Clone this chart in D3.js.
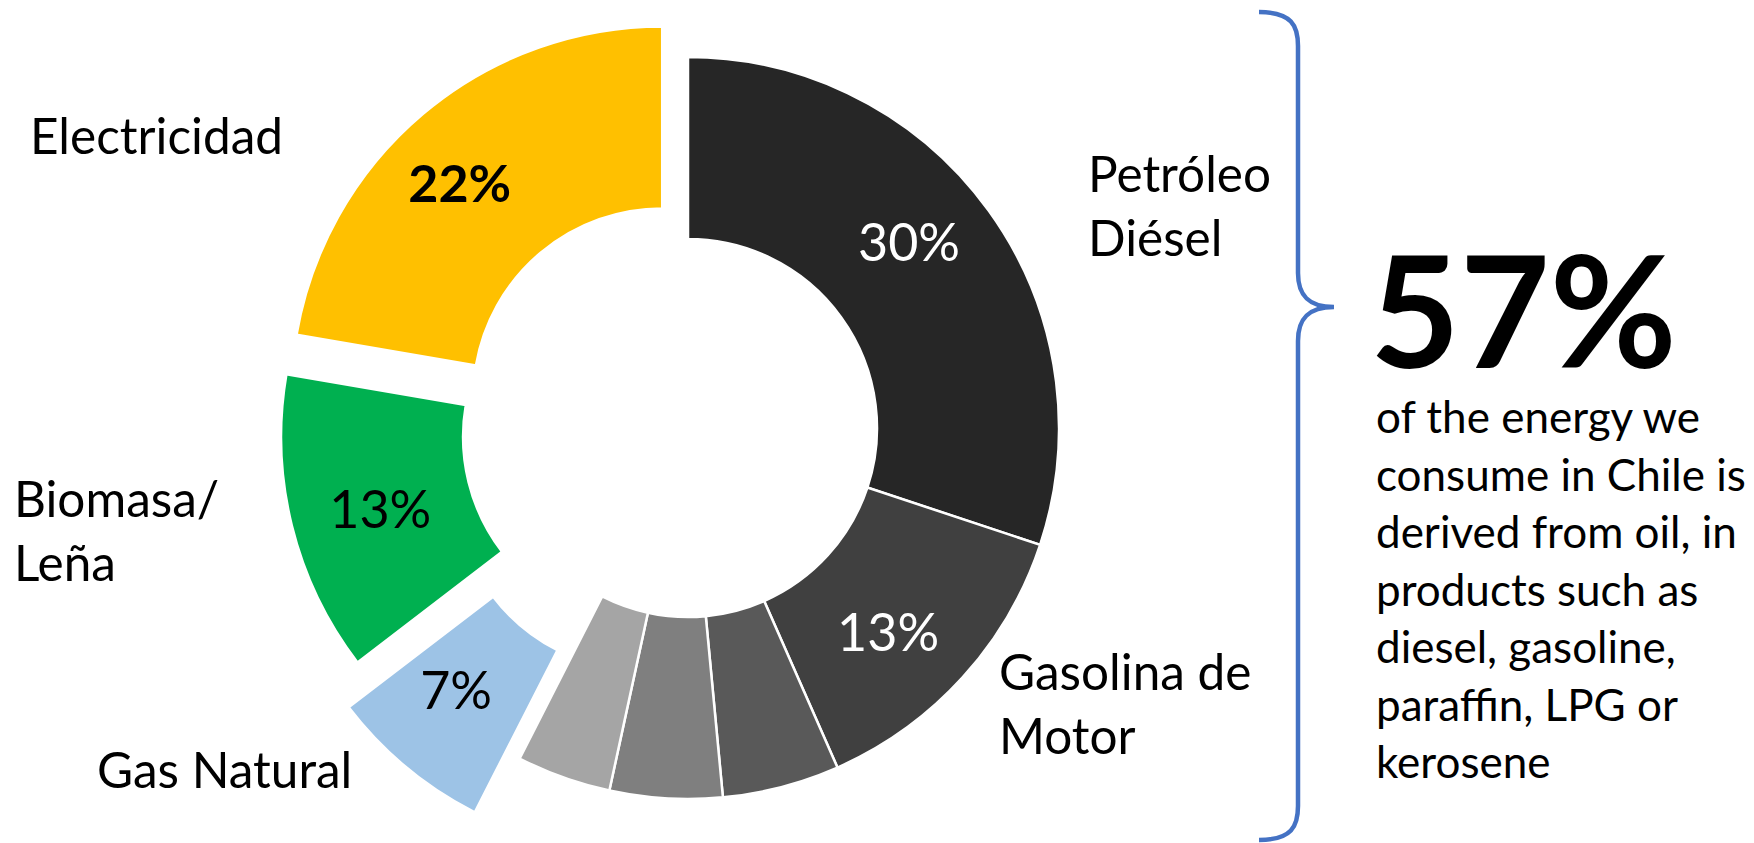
<!DOCTYPE html>
<html>
<head>
<meta charset="utf-8">
<script src="https://cdn.jsdelivr.net/npm/d3@7/dist/d3.min.js"></script>
<style>
  body { margin: 0; background: #fff; }
  svg text { font-family: Lato, "Open Sans", sans-serif; }
</style>
</head>
<body>
<div id="chart"></div>
<script>
// Final energy consumption in Chile, share by source (%)
const categories = [
  'Petróleo Diésel', 'Gasolina de Motor', 'Gas Licuado', 'Parafina',
  'Otros derivados', 'Gas Natural', 'Biomasa/Leña', 'Electricidad'
];
const shares = [30.1, 13.3, 5.1, 4.9, 4.1, 7.1, 13.1, 22.3];
// name as written next to the ring (null = no name shown)
const nameLines = [
  ['Petróleo', 'Diésel'], ['Gasolina de', 'Motor'], null, null, null,
  ['Gas Natural'], ['Biomasa/', 'Leña'], ['Electricidad']
];
const showPct = [true, true, false, false, false, true, true, true];
const oilShare = '57%';
const noteLines = [
  'of the energy we', 'consume in Chile is', 'derived from oil, in',
  'products such as', 'diesel, gasoline,', 'paraffin, LPG or', 'kerosene'
];

// styles
const colors = ['#262626', '#404040', '#595959', '#7f7f7f', '#a5a5a5', '#9dc3e6', '#00b050', '#ffc000'];
const pctColors = ['#fff', '#fff', '#fff', '#fff', '#fff', '#000', '#000', '#000'];
const pctBold = [false, false, false, false, false, false, false, true];
const explode = [0, 0, 0, 0, 0, 70, 37, 40];   // px pulled out from the ring

// layout
const width = 1754, height = 843;
const cx = 688, cy = 428;
const outerR = 371, innerR = 189;
const nameFont = 49.5, nameLineH = 64;
const namePos = [
  [1088, 192], [999, 690], null, null, null,
  [97, 788], [14, 517], [30, 154]
];
// small shifts of the % labels away from the slice centroid
const pctNudge = [[-6, -22], [-7, 16], [0, 0], [0, 0], [0, 0], [-8, -7], [0, 5], [-22, 0]];

const svg = d3.select('#chart').append('svg')
  .attr('width', width)
  .attr('height', height);

const pie = d3.pie().sort(null).value(d => d);
const arcs = pie(shares);
const arc = d3.arc().innerRadius(innerR).outerRadius(outerR);

const ring = svg.append('g')
  .attr('transform', `translate(${cx},${cy})`);

// Push a slice outward along its mid angle
function shift(d) {
  const a = (d.startAngle + d.endAngle) / 2;
  const e = explode[d.index];
  return [e * Math.sin(a), -e * Math.cos(a)];
}

const slices = ring.selectAll('g.slice')
  .data(arcs)
  .join('g')
  .attr('class', 'slice')
  .attr('transform', d => `translate(${shift(d)})`);

slices.append('path')
  .attr('d', arc)
  .attr('fill', d => colors[d.index])
  .attr('stroke', '#fff')
  .attr('stroke-width', 2.5)
  .attr('stroke-linejoin', 'miter');

slices.filter(d => showPct[d.index])
  .append('text')
  .attr('transform', d => {
    const [x, y] = arc.centroid(d);
    const [nx, ny] = pctNudge[d.index];
    return `translate(${x + nx},${y + ny})`;
  })
  .attr('text-anchor', 'middle')
  .attr('dy', '0.36em')
  .attr('fill', d => pctColors[d.index])
  .attr('font-weight', d => pctBold[d.index] ? 700 : 400)
  .attr('font-size', 52)
  .text(d => Math.round(d.data) + '%');

// Category names beside the ring
categories.forEach((c, i) => {
  if (!nameLines[i]) return;
  const t = svg.append('text')
    .attr('x', namePos[i][0])
    .attr('y', namePos[i][1])
    .attr('font-size', nameFont)
    .attr('fill', '#000');
  nameLines[i].forEach((line, j) => {
    t.append('tspan')
      .attr('x', namePos[i][0])
      .attr('dy', j === 0 ? 0 : nameLineH)
      .text(line);
  });
});

// Brace grouping the oil-derived slices
const bx = 1298, btop = 12, bbot = 840, bmid = 307, btip = 1334, bend = 1259;
svg.append('path')
  .attr('d', `M${bend},${btop} C${bx - 6},${btop} ${bx},${btop + 14} ${bx},${btop + 34}
    L${bx},${bmid - 34} C${bx},${bmid - 12} ${bx + 10},${bmid} ${btip},${bmid}
    C${bx + 10},${bmid} ${bx},${bmid + 12} ${bx},${bmid + 34}
    L${bx},${bbot - 34} C${bx},${bbot - 14} ${bx - 6},${bbot} ${bend},${bbot}`)
  .attr('fill', 'none')
  .attr('stroke', '#4472c4')
  .attr('stroke-width', 4.5);

// Headline figure and note
svg.append('text')
  .attr('x', 1370)
  .attr('y', 368)
  .attr('font-size', 155)
  .attr('font-weight', 700)
  .attr('fill', '#000')
  .text(oilShare);

const note = svg.append('text')
  .attr('x', 1376)
  .attr('y', 433)
  .attr('font-size', 44)
  .attr('fill', '#000');
noteLines.forEach((line, j) => {
  note.append('tspan')
    .attr('x', 1376)
    .attr('dy', j === 0 ? 0 : 57.5)
    .text(line);
});
</script>
</body>
</html>
